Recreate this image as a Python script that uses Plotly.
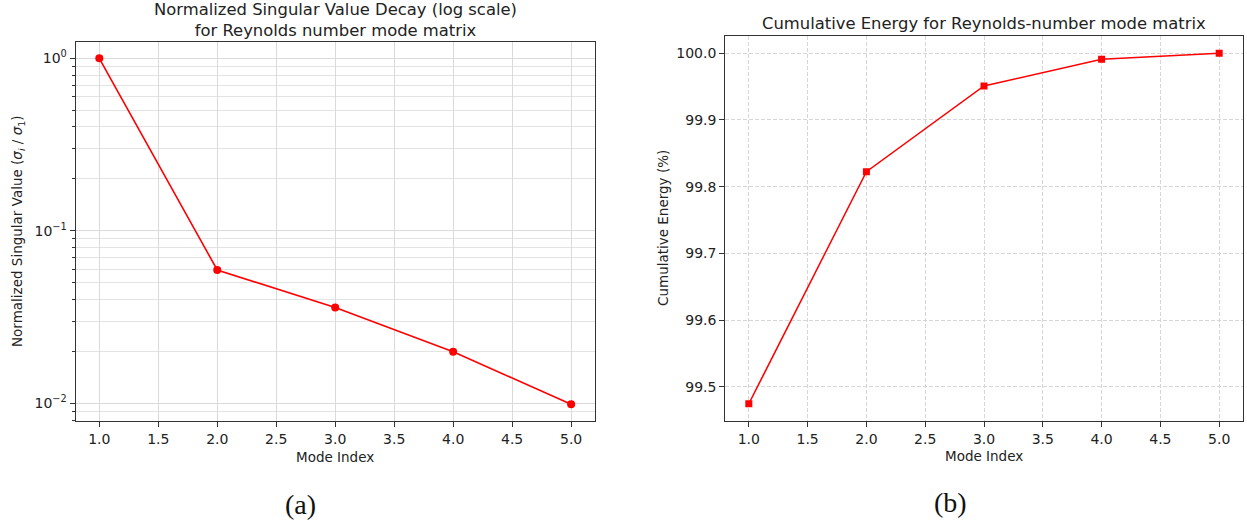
import plotly.graph_objects as go

# Data
mode_index = [1, 2, 3, 4, 5]
sv_normalized = [1.0, 0.0593, 0.0360, 0.0199, 0.0099]
cum_energy = [99.4745, 99.8225, 99.9510, 99.9910, 100.0]

log_tick_vals = [1.0, 0.1, 0.01]
log_tick_text = ["10<sup>0</sup>", "10<sup>\u22121</sup>", "10<sup>\u22122</sup>"]

W, H = 1247, 523


def px_x(x):
    return x / W


def px_y(y):
    return 1 - y / H


FONT = "DejaVu Sans, Verdana, sans-serif"
TEXT = "#222222"
RED = "#ff0000"

fig = go.Figure()

fig.add_trace(go.Scatter(
    x=mode_index, y=sv_normalized, mode="lines+markers",
    line=dict(color=RED, width=1.6),
    marker=dict(symbol="circle", size=8, color=RED),
    xaxis="x", yaxis="y", showlegend=False,
))
fig.add_trace(go.Scatter(
    x=mode_index, y=cum_energy, mode="lines+markers",
    line=dict(color=RED, width=1.5),
    marker=dict(symbol="square", size=7, color=RED),
    xaxis="x2", yaxis="y2", showlegend=False,
))

minor_log = [m * 10 ** e for e in (-3, -2, -1) for m in range(2, 10)]

axis_common = dict(
    showline=True, mirror=True, linecolor="#333333", linewidth=1.2,
    ticks="outside", ticklen=5, tickcolor="#333333", tickwidth=1,
    tickfont=dict(family=FONT, size=14, color=TEXT),
    zeroline=False,
)

fig.update_layout(
    width=W, height=H,
    margin=dict(l=0, r=0, t=0, b=0),
    paper_bgcolor="white", plot_bgcolor="white",
    xaxis=dict(
        domain=[px_x(75.7), px_x(594.7)], anchor="y",
        range=[0.8, 5.2], tick0=1, dtick=0.5, tickformat=".1f",
        showgrid=True, gridcolor="#dadada", gridwidth=1,
        **axis_common,
    ),
    yaxis=dict(
        domain=[px_y(421), px_y(42)], anchor="x",
        type="log", range=[-2.102, 0.0945],
        tickvals=log_tick_vals, ticktext=log_tick_text,
        showgrid=True, gridcolor="#dadada", gridwidth=1,
        minor=dict(tickvals=minor_log, ticks="outside", ticklen=3,
                   tickcolor="#333333", showgrid=True,
                   gridcolor="#e3e3e3", gridwidth=1),
        **axis_common,
    ),
    xaxis2=dict(
        domain=[px_x(725.3), px_x(1242.7)], anchor="y2",
        range=[0.8, 5.2], tick0=1, dtick=0.5, tickformat=".1f",
        showgrid=True, gridcolor="#d6d6d6", gridwidth=1, griddash="4px,2px",
        **axis_common,
    ),
    yaxis2=dict(
        domain=[px_y(421), px_y(35.7)], anchor="x2",
        range=[99.4486, 100.0264], tick0=99.5, dtick=0.1, tickformat=".1f",
        showgrid=True, gridcolor="#d6d6d6", gridwidth=1, griddash="4px,2px",
        **axis_common,
    ),
)

ann = []
# Titles
ann.append(dict(x=px_x(335), y=px_y(20), xanchor="center", yanchor="middle",
                text="Normalized Singular Value Decay (log scale)<br>for Reynolds number mode matrix",
                font=dict(family=FONT, size=16.4, color=TEXT)))
ann.append(dict(x=px_x(984), y=px_y(23.3), xanchor="center", yanchor="middle",
                text="Cumulative Energy for Reynolds-number mode matrix",
                font=dict(family=FONT, size=16.4, color=TEXT)))
# Axis titles
ann.append(dict(x=px_x(335), y=px_y(457), xanchor="center", yanchor="middle",
                text="Mode Index", font=dict(family=FONT, size=13.5, color=TEXT)))
ann.append(dict(x=px_x(984), y=px_y(456), xanchor="center", yanchor="middle",
                text="Mode Index", font=dict(family=FONT, size=13.5, color=TEXT)))
ann.append(dict(x=px_x(17.5), y=px_y(231.5), xanchor="center", yanchor="middle",
                textangle=-90,
                text="Normalized Singular Value (<i>\u03c3<sub>i</sub></i> / <i>\u03c3</i><sub>1</sub>)",
                font=dict(family=FONT, size=13.5, color=TEXT)))
ann.append(dict(x=px_x(663), y=px_y(228), xanchor="center", yanchor="middle",
                textangle=-90, text="Cumulative Energy (%)",
                font=dict(family=FONT, size=13.5, color=TEXT)))
# Sub-figure captions
ann.append(dict(x=px_x(300), y=px_y(504), xanchor="center", yanchor="middle",
                text="(a)", font=dict(family="Liberation Serif, serif", size=28, color="#111111")))
ann.append(dict(x=px_x(950), y=px_y(502), xanchor="center", yanchor="middle",
                text="(b)", font=dict(family="Liberation Serif, serif", size=28, color="#111111")))

for a in ann:
    a.update(xref="paper", yref="paper", showarrow=False)
fig.update_layout(annotations=ann)

fig.write_html("out.html")
